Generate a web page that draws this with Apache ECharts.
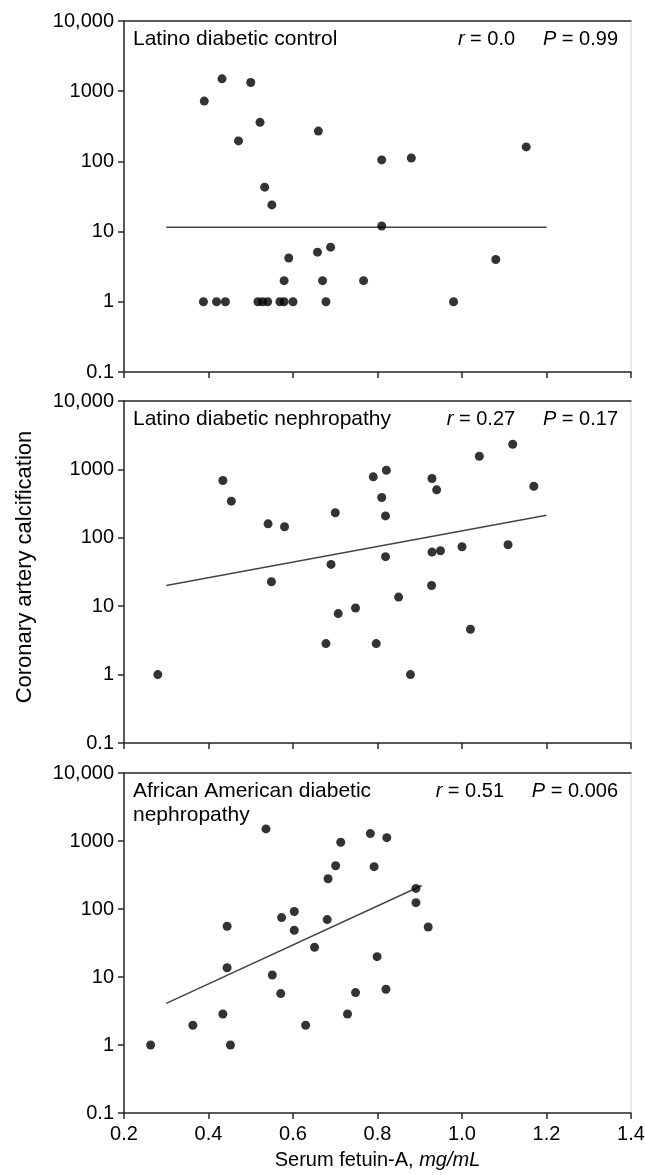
<!DOCTYPE html>
<html><head><meta charset="utf-8">
<script src="https://cdn.jsdelivr.net/npm/echarts@6/dist/echarts.min.js"></script>
<style>html,body{margin:0;padding:0;background:#fff}#c{width:645px;height:1175px}</style>
</head><body><div id="c"></div>
<script>
// ---- data ----
const panelTitles = ['Latino diabetic control', 'Latino diabetic nephropathy', 'African American diabetic\nnephropathy'];
const statR = ['0.0', '0.27', '0.51'];
const statP = ['0.99', '0.17', '0.006'];
const yTickLabels = ['0.1', '1', '10', '100', '1000', '10,000'];
const xTickLabels = ['0.2', '0.4', '0.6', '0.8', '1.0', '1.2', '1.4'];

// Panel 1: Latino diabetic control
const ctrlX = [0.390, 0.432, 0.500, 0.522, 0.471, 0.660, 0.810, 0.880, 1.152, 0.533, 0.550, 0.810, 0.590, 0.658, 0.689, 1.080, 0.579, 0.670, 0.767,
               0.388, 0.419, 0.440, 0.517, 0.528, 0.540, 0.569, 0.579, 0.600, 0.678, 0.980];
const ctrlY = [723, 1500, 1330, 360, 196, 270, 105, 112, 161, 43, 24, 12, 4.2, 5.1, 6.0, 4.0, 2, 2, 2,
               1, 1, 1, 1, 1, 1, 1, 1, 1, 1, 1];
const ctrlFitX = [0.3, 1.2];
const ctrlFitY = [11.5, 11.5];

// Panel 2: Latino diabetic nephropathy
const nephX = [0.280, 0.434, 0.454, 0.541, 0.580, 0.549, 0.700, 0.690, 0.678, 0.707, 0.748, 0.790, 0.821, 0.810, 0.819, 0.819, 0.797, 0.850, 0.878,
               0.929, 0.940, 0.929, 0.949, 0.928, 1.000, 1.020, 1.041, 1.120, 1.170, 1.109];
const nephY = [1, 687, 343, 160, 145, 22.8, 232, 40.8, 2.84, 7.8, 9.4, 778, 972, 388, 209, 53, 2.84, 13.6, 1,
               735, 502, 61.8, 64.6, 20.1, 74, 4.6, 1555, 2328, 568, 79];
const nephFitX = [0.3, 1.2];
const nephFitY = [20.1, 214];

// Panel 3: African American diabetic nephropathy
const aaX = [0.263, 0.363, 0.434, 0.452, 0.444, 0.444, 0.536, 0.551, 0.571, 0.573, 0.603, 0.603, 0.630, 0.651, 0.681, 0.683, 0.701, 0.713,
             0.729, 0.748, 0.783, 0.792, 0.799, 0.822, 0.820, 0.891, 0.891, 0.920];
const aaY = [1, 1.95, 2.86, 1, 13.7, 55.7, 1506, 10.7, 5.7, 74.8, 91.9, 48.7, 1.95, 27.3, 69.8, 278, 433, 958,
             2.86, 5.9, 1284, 419, 19.9, 1121, 6.6, 201, 124, 54.4];
const aaFitX = [0.3, 0.905];
const aaFitY = [4.1, 222];

// ---- chart ----
const FONT = "'Liberation Sans', Arial, Helvetica, sans-serif";
const AX = '#2a2a2a';
const zip = (a, b) => a.map((v, i) => [v, b[i]]);
const panels = [
  {x: ctrlX, y: ctrlY, fx: ctrlFitX, fy: ctrlFitY},
  {x: nephX, y: nephY, fx: nephFitX, fy: nephFitY},
  {x: aaX, y: aaY, fx: aaFitX, fy: aaFitY}
];
const gridBoxes = [
  {left: 124, top: 21, width: 507, height: 351},
  {left: 124, top: 401, width: 507, height: 342},
  {left: 124, top: 773, width: 507, height: 340}
];
const titleTops = [27, 407, 779];

const grid = [], xAxis = [], yAxis = [], series = [], title = [];
panels.forEach((p, i) => {
  grid.push(Object.assign({show: true, borderColor: '#d8d8d8', borderWidth: 1, containLabel: false, outerBoundsMode: 'none'}, gridBoxes[i]));
  const last = i === panels.length - 1;
  xAxis.push({
    type: 'value', gridIndex: i, min: 0.2, max: 1.4, interval: 0.2, position: 'bottom',
    axisLine: {show: true, onZero: false, lineStyle: {color: AX, width: 1.5}},
    axisTick: {show: true, length: 6, inside: false, lineStyle: {color: AX, width: 1.5}},
    axisLabel: {show: last, color: '#000', fontSize: 20, fontFamily: FONT, margin: 11,
      formatter: v => xTickLabels[Math.round((v - 0.2) / 0.2)]},
    splitLine: {show: false},
    name: last ? 'Serum fetuin-A, {i|mg/mL}' : '',
    nameLocation: 'middle', nameGap: 37,
    nameTextStyle: {color: '#000', fontSize: 20, fontFamily: FONT,
      rich: {i: {fontStyle: 'italic', fontSize: 20, fontFamily: FONT, color: '#000'}}}
  });
  xAxis.push({
    type: 'value', gridIndex: i, min: 0.2, max: 1.4, position: 'top',
    axisLine: {show: true, onZero: false, lineStyle: {color: AX, width: 1.5}},
    axisTick: {show: false}, axisLabel: {show: false}, splitLine: {show: false}
  });
  yAxis.push({
    type: 'log', logBase: 10, gridIndex: i, min: 0.1, max: 10000,
    axisLine: {show: true, onZero: false, lineStyle: {color: AX, width: 1.5}},
    axisTick: {show: true, length: 6, inside: false, lineStyle: {color: AX, width: 1.5}},
    minorTick: {show: false},
    axisLabel: {color: '#000', fontSize: 20, fontFamily: FONT, margin: 10,
      formatter: v => yTickLabels[Math.round(Math.log10(v)) + 1]},
    splitLine: {show: false},
    name: i === 1 ? 'Coronary artery calcification' : '',
    nameLocation: 'middle', nameGap: 88, nameRotate: 90,
    nameTextStyle: {color: '#000', fontSize: 22, fontFamily: FONT, padding: [0, 0, 0, 10]}
  });
  series.push({
    type: 'line', xAxisIndex: i * 2, yAxisIndex: i, data: zip(p.fx, p.fy),
    symbol: 'none', silent: true, lineStyle: {color: '#444', width: 1.5}, z: 2
  });
  series.push({
    type: 'scatter', xAxisIndex: i * 2, yAxisIndex: i, data: zip(p.x, p.y),
    symbol: 'circle', symbolSize: 9, itemStyle: {color: '#000'}, z: 3
  });
  title.push({
    text: panelTitles[i], left: 133, top: titleTops[i], padding: 0,
    textStyle: {color: '#000', fontSize: 21, fontWeight: 'normal', fontFamily: FONT, lineHeight: 24}
  });
  title.push({
    text: '{i|r} = ' + statR[i] + '     {i|P} = ' + statP[i], right: 27, top: titleTops[i], padding: 0,
    textStyle: {color: '#000', fontSize: 20, fontWeight: 'normal', fontFamily: FONT, lineHeight: 24,
      rich: {i: {fontStyle: 'italic', fontSize: 20, fontFamily: FONT, color: '#000', lineHeight: 24}}}
  });
});

const chart = echarts.init(document.getElementById('c'), null, {renderer: 'canvas'});
chart.setOption({animation: false, backgroundColor: '#fff', grid, xAxis, yAxis, series, title});
</script>
</body></html>
